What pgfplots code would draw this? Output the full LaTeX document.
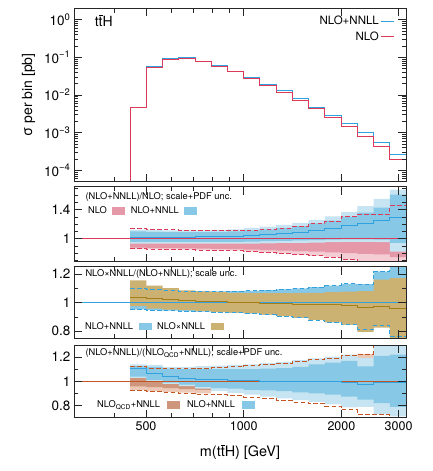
\documentclass[border=0pt]{standalone}
\usepackage{fontspec}
\setmainfont{TeX Gyre Heros}
\usepackage{pgfplots}
\pgfplotsset{compat=1.18}
\usepackage{pgfplotstable}
\usepgfplotslibrary{fillbetween}

\definecolor{nnllline}{RGB}{50,162,222}
\definecolor{nnlldark}{RGB}{135,200,230}
\definecolor{nnlllight}{RGB}{198,228,242}
\definecolor{nloline}{RGB}{220,58,88}
\definecolor{nlodark}{RGB}{228,152,168}
\definecolor{nlolight}{RGB}{244,204,212}
\definecolor{goldband}{RGB}{203,178,115}
\definecolor{goldline}{RGB}{165,125,25}
\definecolor{qcdline}{RGB}{195,85,35}
\definecolor{qcddark}{RGB}{205,150,125}
\definecolor{qcdlight}{RGB}{236,200,182}

\newcommand{\tbar}{\leavevmode\rlap{\hspace{0.02em}\raisebox{0.76em}{\rule{0.26em}{0.06em}}}t}
\newcommand{\paneltext}{\fontsize{9.3}{11}\selectfont}

% band between two columns of a binned table, drawn as steps
\newcommand{\band}[5]{%
  \addplot[const plot mark left, draw=none, forget plot, name path=lo#5] table[x=x,y=#2]{#1};
  \addplot[const plot mark left, draw=none, forget plot, name path=hi#5] table[x=x,y=#3]{#1};
  \addplot[fill=#4, draw=none, forget plot] fill between[of=lo#5 and hi#5];
}

% cross sections per bin (left bin edge, last row closes the final bin)
\pgfplotstableread{
x nnll nlo
300 1e-6 1e-6
446.7 4.8e-3 4.75e-3
501.2 0.0558 0.0535
562.3 0.0931 0.0893
631.0 0.0960 0.0930
707.9 0.0790 0.0774
794.3 0.0593 0.0558
891.3 0.0428 0.0410
1000 0.0284 0.0273
1122 0.0192 0.0181
1258.9 0.0128 0.01154
1412.5 0.00798 0.00736
1584.9 0.00479 0.00432
1778.3 0.00293 0.00259
1995.3 0.00176 0.00149
2238.7 9.9e-4 8.07e-4
2511.9 5.36e-4 4.37e-4
2818.4 2.62e-4 2.0e-4
3162.3 2.62e-4 2.0e-4
}\tabtop

% (NLO+NNLL)/NLO
\pgfplotstableread{
x c dbU dbL lbU lbL pdL pdU dashU dashL
446.7 1.014 1.100 0.955 1.125 0.930 0.875 1.05 1.140 0.862
501.2 1.014 1.095 0.955 1.120 0.930 0.870 1.05 1.130 0.855
562.3 1.018 1.090 0.955 1.115 0.930 0.868 1.05 1.122 0.850
631.0 1.022 1.090 0.955 1.115 0.930 0.865 1.05 1.115 0.846
707.9 1.024 1.090 0.955 1.115 0.930 0.862 1.05 1.113 0.842
794.3 1.028 1.095 0.955 1.120 0.930 0.858 1.05 1.113 0.838
891.3 1.032 1.100 0.955 1.130 0.930 0.853 1.05 1.115 0.832
1000 1.046 1.115 0.960 1.145 0.932 0.848 1.05 1.120 0.822
1122 1.055 1.130 0.965 1.165 0.935 0.842 1.05 1.130 0.810
1258.9 1.069 1.150 0.970 1.190 0.940 0.835 1.05 1.145 0.795
1412.5 1.087 1.175 0.975 1.220 0.940 0.828 1.05 1.170 0.778
1584.9 1.115 1.210 0.980 1.260 0.945 0.820 1.05 1.205 0.760
1778.3 1.147 1.250 0.985 1.310 0.950 0.810 1.05 1.240 0.742
1995.3 1.184 1.300 0.990 1.370 0.955 0.800 1.05 1.305 0.710
2238.7 1.216 1.360 0.990 1.450 0.955 0.790 1.05 1.331 0.660
2511.9 1.253 1.430 0.985 1.550 0.950 0.780 1.05 1.331 0.650
2818.4 1.290 1.610 0.940 1.680 0.820 0.745 1.05 1.460 0.620
3162.3 1.290 1.610 0.940 1.680 0.820 0.745 1.05 1.460 0.620
}\tabnlo

% NLOxNNLL/(NLO+NNLL)
\pgfplotstableread{
x bU bL gU gL gC
446.7 1.095 0.952 1.155 0.975 1.036
501.2 1.090 0.946 1.118 0.958 1.025
562.3 1.084 0.943 1.100 0.950 1.019
631.0 1.078 0.940 1.085 0.946 1.014
707.9 1.077 0.936 1.078 0.940 1.010
794.3 1.077 0.932 1.072 0.935 1.006
891.3 1.079 0.928 1.068 0.930 1.002
1000 1.082 0.924 1.066 0.925 0.999
1122 1.087 0.915 1.065 0.916 0.995
1258.9 1.092 0.905 1.065 0.906 0.992
1412.5 1.098 0.893 1.066 0.894 0.989
1584.9 1.107 0.878 1.068 0.879 0.986
1778.3 1.118 0.862 1.072 0.863 0.983
1995.3 1.130 0.845 1.076 0.846 0.979
2238.7 1.128 0.815 1.080 0.795 0.965
2511.9 1.215 0.840 1.160 0.825 0.972
2818.4 1.300 0.765 1.170 0.700 0.958
3162.3 1.300 0.765 1.170 0.700 0.958
}\tabmult

% (NLO+NNLL)/(NLO_QCD+NNLL)
\pgfplotstableread{
x c lL lU dL dU bkL bkU btL btU qU qL
446.7 1.105 1.028 1.140 1.040 1.125 0.958 1.03 0.928 1.050 1.125 0.923
501.2 1.069 1.000 1.135 1.010 1.120 0.952 1.03 0.920 1.050 1.110 0.917
562.3 1.041 0.980 1.120 0.990 1.105 0.945 1.00 0.914 1.050 1.105 0.912
631.0 1.028 0.960 1.120 0.972 1.100 0.935 1.00 0.906 1.050 1.105 0.903
707.9 1.019 0.940 1.125 0.955 1.100 0.930 1.00 0.900 1.050 1.110 0.895
794.3 1.014 0.920 1.130 0.945 1.100 0.930 1.00 0.930 1.050 1.115 0.890
891.3 1.008 0.905 1.135 0.940 1.100 0.930 1.00 0.930 1.050 1.120 0.882
1000 1.005 0.890 1.140 0.930 1.100 0.930 1.00 0.930 1.050 1.130 0.870
1122 1.002 0.875 1.150 0.925 1.105 0.930 1.00 0.930 1.050 1.140 0.857
1258.9 1.000 0.860 1.160 0.920 1.110 0.930 1.00 0.930 1.050 1.150 0.843
1412.5 1.000 0.845 1.175 0.910 1.120 0.930 1.00 0.930 1.050 1.165 0.830
1584.9 0.998 0.830 1.190 0.900 1.140 0.930 1.00 0.930 1.050 1.180 0.815
1778.3 0.997 0.810 1.205 0.890 1.155 0.930 1.00 0.930 1.050 1.193 0.795
1995.3 0.995 0.785 1.220 0.875 1.170 0.930 1.00 0.930 1.050 1.215 0.765
2238.7 0.972 0.790 1.193 0.850 1.124 0.930 1.00 0.930 1.226 1.226 0.724
2511.9 0.994 0.730 1.320 0.820 1.210 0.930 1.00 0.930 1.050 1.350 0.724
2818.4 0.990 0.710 1.320 0.790 1.220 0.930 1.00 0.930 1.050 1.350 0.650
3162.3 0.990 0.710 1.320 0.790 1.220 0.930 1.00 0.930 1.050 1.350 0.650
}\tabqcd

\pgfplotsset{
  panel/.style={
    scale only axis, width=332pt,
    xmin=300, xmax=3162.3,
    set layers, axis on top,
    axis line style={line width=0.9pt, black!85},
    every tick/.style={black!85, line width=0.6pt},
    major tick length=8pt, minor tick length=4.5pt,
    xtick={500,1000,2000,3000},
    minor xtick={300,400,600,700,800,900},
    xticklabels={},
    /pgf/number format/assume math mode=true,
    xticklabel style={font=\fontsize{12.5}{14}\selectfont},
    yticklabel style={font=\fontsize{13.5}{15}\selectfont},
    legend plot pos=right,
  },
  dashband/.style={const plot mark left, forget plot, line width=0.9pt, dash pattern=on 4.5pt off 2.5pt},
  boxlegend/.style={
    legend image code/.code={\fill[##1, draw=none] (0pt,-3.6pt) rectangle (13pt,3.6pt);},
    legend columns=2,
    legend style={draw=none, fill=none, font=\paneltext, column sep=3.5pt, inner sep=0pt},
  },
}

\begin{document}
\begin{tikzpicture}

% ---- differential cross section
\begin{axis}[xmode=log, ymode=log, panel, name=p1, at={(0pt,0pt)}, anchor=north west, height=173.4pt,
  ymin=5e-5, ymax=2,
  ytick={1e-4,1e-3,1e-2,1e-1,1},
  yticklabels={10\textsuperscript{−4},10\textsuperscript{−3},10\textsuperscript{−2},10\textsuperscript{−1},10\textsuperscript{0}},
  minor ytick={6e-5,7e-5,8e-5,9e-5,2e-4,3e-4,4e-4,5e-4,6e-4,7e-4,8e-4,9e-4,2e-3,3e-3,4e-3,5e-3,6e-3,7e-3,8e-3,9e-3,2e-2,3e-2,4e-2,5e-2,6e-2,7e-2,8e-2,9e-2,0.2,0.3,0.4,0.5,0.6,0.7,0.8,0.9,2},
  ylabel={σ per bin [pb]},
  ylabel style={at={(axis description cs:-0.137,0.5)}, anchor=center, font=\fontsize{14}{16}\selectfont},
  legend image code/.code={\draw[#1, line width=1pt] (0pt,0pt) -- (13pt,0pt);},
  legend style={at={(axis description cs:0.967,0.967)}, anchor=north east, draw=none, fill=none,
    font=\fontsize{11.5}{13}\selectfont, row sep=1.5pt, cells={anchor=east}, inner sep=0pt},
]
\addplot[const plot mark left, draw=nnllline, line width=1pt] table[x=x,y=nnll]{\tabtop};
\addlegendentry{NLO+NNLL}
\addplot[const plot mark left, draw=nloline, line width=1pt] table[x=x,y=nlo]{\tabtop};
\addlegendentry{NLO}
\node[anchor=west, font=\fontsize{14}{16}\selectfont] at (axis description cs:0.052,0.927) {t\tbar H};
\end{axis}

% ---- (NLO+NNLL)/NLO
\begin{axis}[xmode=log, panel, boxlegend, name=p2, at={(0pt,-178.4pt)}, anchor=north west, height=75pt,
  ymin=0.68, ymax=1.72, ytick={1,1.4}, minor ytick={0.7,0.8,0.9,1.1,1.2,1.3,1.5,1.6,1.7},
  legend style={at={(axis description cs:0.036,0.676)}, anchor=west},
]
\band{\tabnlo}{dashL}{pdU}{nlolight}{a}
\band{\tabnlo}{pdL}{pdU}{nlodark}{b}
\band{\tabnlo}{lbL}{lbU}{nnlllight}{c}
\band{\tabnlo}{dbL}{dbU}{nnlldark}{d}
\addplot[dashband, draw=nloline] table[x=x,y=dashU]{\tabnlo};
\addplot[dashband, draw=nloline] table[x=x,y=dashL]{\tabnlo};
\addplot[forget plot, draw=nloline, line width=0.9pt] coordinates {(300,1) (3162.3,1)};
\addplot[const plot mark left, forget plot, draw=nnllline, line width=0.9pt] table[x=x,y=c]{\tabnlo};
\addlegendimage{fill=nlodark}
\addlegendentry{NLO}
\addlegendimage{fill=nnlldark}
\addlegendentry{NLO+NNLL}
\node[anchor=west, font=\paneltext] at (axis description cs:0.024,0.859) {(NLO+NNLL)/NLO; scale+PDF unc.};
\end{axis}

% ---- NLOxNNLL/(NLO+NNLL)
\begin{axis}[xmode=log, panel, boxlegend, name=p3, at={(0pt,-258.4pt)}, anchor=north west, height=71.6pt,
  ymin=0.75, ymax=1.25, ytick={0.8,1,1.2}, minor ytick={0.9,1.1},
  legend style={at={(axis description cs:0.027,0.162)}, anchor=west},
]
\band{\tabmult}{bL}{bU}{nnlldark}{a}
\band{\tabmult}{gL}{gU}{goldband}{b}
\addplot[dashband, draw=nnllline] table[x=x,y=bU]{\tabmult};
\addplot[dashband, draw=nnllline] table[x=x,y=bL]{\tabmult};
\addplot[forget plot, draw=nnllline, line width=0.9pt] coordinates {(300,1) (3162.3,1)};
\addplot[const plot mark left, forget plot, draw=goldline, line width=0.9pt] table[x=x,y=gC]{\tabmult};
\addlegendimage{fill=nnlldark}
\addlegendentry{NLO+NNLL}
\addlegendimage{fill=goldband}
\addlegendentry{NLO×NNLL}
\node[anchor=west, font=\paneltext] at (axis description cs:0.024,0.894) {NLO×NNLL/(NLO+NNLL); scale unc.};
\end{axis}

% ---- (NLO+NNLL)/(NLO_QCD+NNLL)
\begin{axis}[xmode=log, panel, boxlegend, name=p4, at={(0pt,-336.7pt)}, anchor=north west, height=72.7pt,
  ymin=0.70, ymax=1.30, ytick={0.8,1,1.2}, minor ytick={0.9,1.1},
  xticklabels={500,1000,2000,3000},
  xlabel={m(t\tbar H) [GeV]},
  xlabel style={at={(axis description cs:0.5,-0.472)}, anchor=center, font=\fontsize{14.4}{17}\selectfont},
  legend style={at={(axis description cs:0.063,0.175)}, anchor=west, column sep=5pt},
]
\band{\tabqcd}{btL}{btU}{qcdlight}{a}
\band{\tabqcd}{bkL}{bkU}{qcddark}{b}
\band{\tabqcd}{lL}{lU}{nnlllight}{c}
\band{\tabqcd}{dL}{dU}{nnlldark}{d}
\addplot[dashband, draw=qcdline] table[x=x,y=qU]{\tabqcd};
\addplot[dashband, draw=qcdline] table[x=x,y=qL]{\tabqcd};
\addplot[forget plot, draw=qcdline, line width=0.9pt] coordinates {(300,1) (3162.3,1)};
\addplot[const plot mark left, forget plot, draw=nnllline, line width=0.9pt] table[x=x,y=c]{\tabqcd};
\addlegendimage{fill=qcddark}
\addlegendentry{NLO\textsubscript{QCD}+NNLL}
\addlegendimage{fill=nnlldark}
\addlegendentry{NLO+NNLL}
\node[anchor=west, font=\paneltext] at (axis description cs:0.024,0.886) {(NLO+NNLL)/(NLO\textsubscript{QCD}+NNLL); scale+PDF unc.};
\end{axis}

% fixed page frame around the four panels
\pgfresetboundingbox
\path (-74pt,8.3pt) rectangle (358pt,-462.7pt);
\end{tikzpicture}
\end{document}
